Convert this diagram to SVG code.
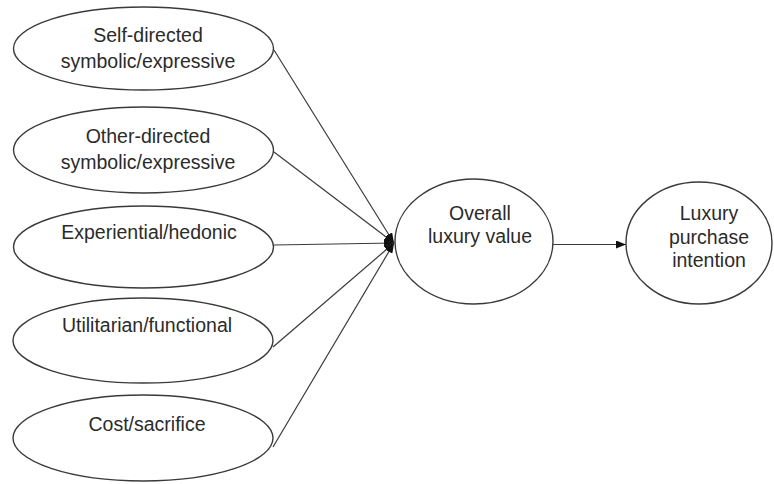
<svg xmlns="http://www.w3.org/2000/svg" width="774" height="484" viewBox="0 0 774 484">
  <style>
    .node ellipse { fill: #ffffff; stroke: #3a3a3a; stroke-width: 1.4; }
    .node text { font-family: "Liberation Sans", Arial, sans-serif; font-size: 19.5px; fill: #2b2b2b; text-anchor: middle; }
    .edge { stroke: #3a3a3a; stroke-width: 1.2; fill: none; marker-end: url(#arrow); }
  </style>
  <defs>
    <marker id="arrow" viewBox="0 0 10 8" refX="10" refY="4" markerWidth="10" markerHeight="8" markerUnits="userSpaceOnUse" orient="auto">
      <path d="M0,0 L10,4 L0,8 Z" fill="#111"/>
    </marker>
  </defs>
  <rect width="774" height="484" fill="#ffffff"/>
  <g id="connectors">
    <line class="edge" x1="274" y1="50" x2="394" y2="243"/>
    <line class="edge" x1="274" y1="152" x2="394" y2="243"/>
    <line class="edge" x1="274" y1="245" x2="394" y2="243"/>
    <line class="edge" x1="273" y1="347" x2="394" y2="243"/>
    <line class="edge" x1="273" y1="447" x2="394" y2="243"/>
    <line class="edge" x1="553" y1="244.5" x2="626" y2="244.5"/>
  </g>
  <g id="self-directed" class="node">
    <ellipse cx="143.5" cy="48.5" rx="130" ry="41.5"/>
    <text x="148" y="42">Self-directed</text>
    <text x="148" y="68">symbolic/expressive</text>
  </g>
  <g id="other-directed" class="node">
    <ellipse cx="143.5" cy="150" rx="130" ry="43"/>
    <text x="148" y="143">Other-directed</text>
    <text x="148" y="169">symbolic/expressive</text>
  </g>
  <g id="experiential" class="node">
    <ellipse cx="143.5" cy="247" rx="130" ry="41"/>
    <text x="149" y="239">Experiential/hedonic</text>
  </g>
  <g id="utilitarian" class="node">
    <ellipse cx="143" cy="340.5" rx="130" ry="42.5"/>
    <text x="147" y="332">Utilitarian/functional</text>
  </g>
  <g id="cost" class="node">
    <ellipse cx="143" cy="438" rx="130" ry="43"/>
    <text x="147" y="431">Cost/sacrifice</text>
  </g>
  <g id="overall" class="node">
    <ellipse cx="474" cy="241.5" rx="79" ry="62.5"/>
    <text x="480" y="220">Overall</text>
    <text x="480" y="243">luxury value</text>
  </g>
  <g id="intention" class="node">
    <ellipse cx="699" cy="243" rx="73" ry="61"/>
    <text x="709" y="220">Luxury</text>
    <text x="709" y="244">purchase</text>
    <text x="709" y="267">intention</text>
  </g>
</svg>
